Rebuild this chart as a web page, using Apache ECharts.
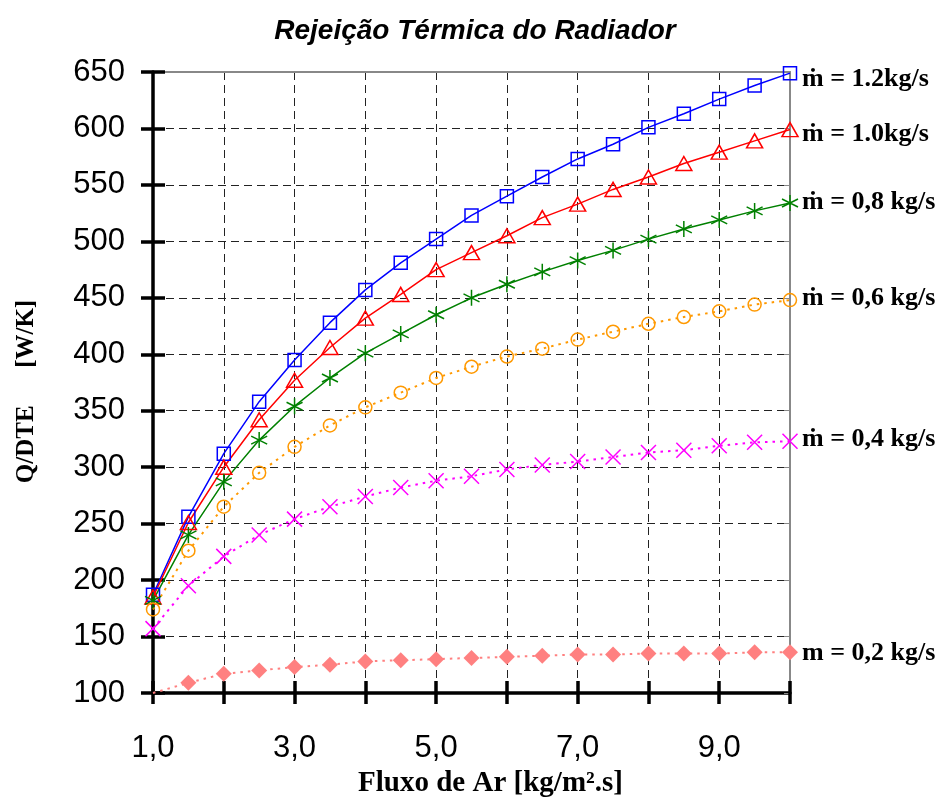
<!DOCTYPE html>
<html>
<head>
<meta charset="utf-8">
<script src="https://cdn.jsdelivr.net/npm/echarts@6/dist/echarts.min.js"></script>
<style>html,body{margin:0;padding:0;background:#fff}#c{width:942px;height:802px}</style>
</head>
<body>
<div id="c"></div>
<script>
// ---- data ----
const xValues = [1.0,1.5,2.0,2.5,3.0,3.5,4.0,4.5,5.0,5.5,6.0,6.5,7.0,7.5,8.0,8.5,9.0,9.5,10.0];
const m12 = [187,256,312,358,395,428,457,481,502,523,540,557,573,586,601,613,626,638,649];
const m10 = [185,251,300,342,377,406,432,453,475,490,505,521,533,546,557,569,579,589,599];
const m08 = [182,240,287,324,354,379,401,418,435,450,462,473,483,492,502,511,519,527,534];
const m06 = [174,226,265,295,318,337,353,366,379,389,398,405,413,420,427,433,438,444,448];
const m04 = [157,195,221,240,254,265,274,282,288,292,298,302,305,309,313,315,319,322,323];
const m02 = [100,109,117,120,123,125,128,129,130,131,132,133,134,134,135,135,135,136,136];
const seriesNames = ['ṁ = 1.2kg/s','ṁ = 1.0kg/s','ṁ = 0,8 kg/s','ṁ = 0,6 kg/s','ṁ = 0,4 kg/s','m = 0,2 kg/s'];
const titleText = 'Rejeição Térmica do Radiador';
const xName = 'Fluxo de Ar [kg/m².s]';
const yName = 'Q/DTE      [W/K]';

const pts = arr => arr.map((v,i)=>[xValues[i], v]);
const SERIF = '"Liberation Serif","Times New Roman",serif';
const SANS = '"Liberation Sans",Arial,sans-serif';
const asterisk = 'path://M5,0L5,10M0.67,2.5L9.33,7.5M0.67,7.5L9.33,2.5';
const cross = 'path://M0,0L10,10M10,0L0,10';

function mk(name, data, color, symbol, size, dashed, filled, labelDy){
  return {
    name, type:'line', xAxisIndex:0, yAxisIndex:0,
    data, symbol, symbolSize:size, showSymbol:true,
    lineStyle:{color, width: dashed?2:1.5, type: dashed?[2.5,5]:'solid'},
    itemStyle:{color: filled?color:'rgba(0,0,0,0)', borderColor: color, borderWidth: filled?0:1.5},
    endLabel:{show:true, formatter:name, distance:12, color:'#000', offset:[0,labelDy],
      fontFamily:SERIF, fontWeight:'bold', fontSize:26},
    z: 3
  };
}

const d02 = pts(m02).map((p,i)=> i===0 ? {value:p, symbol:'none'} : p);

const chart = echarts.init(document.getElementById('c'), null, {renderer:'canvas'});
chart.setOption({
  animation:false,
  backgroundColor:'#fff',
  title:{text:titleText, left:470, textAlign:'center', top:12,
    textStyle:{fontFamily:SANS, fontStyle:'italic', fontWeight:'bold', fontSize:28, color:'#000'}},
  grid:{left:153, right:152, top:72, bottom:109, outerBoundsMode:'none'},
  xAxis:[
    {type:'value', position:'bottom', min:1, max:10, interval:1,
     axisLine:{show:true, lineStyle:{color:'#000', width:3.5}},
     axisTick:{show:true, inside:false, length:11, lineStyle:{color:'#000', width:3.5}},
     axisLabel:{margin:40, fontFamily:SANS, fontSize:31, color:'#000',
       formatter: v => (Math.round(v)%2===1 && v<10) ? v.toFixed(1).replace('.',',') : ''},
     splitLine:{show:true, lineStyle:{type:[8,5], color:'#222', width:1}},
     name:xName, nameLocation:'middle', nameGap:70,
     nameTextStyle:{fontFamily:SERIF, fontWeight:'bold', fontSize:29, color:'#000', padding:[0,0,0,38]}},
    {type:'value', position:'bottom', min:1, max:10, interval:1,
     axisLine:{show:false}, axisLabel:{show:false}, splitLine:{show:false},
     axisTick:{show:true, inside:true, length:12, lineStyle:{color:'#000', width:3.5}}},
    {type:'value', position:'top', min:1, max:10, interval:1,
     axisLine:{show:true, lineStyle:{color:'#888', width:2}},
     axisTick:{show:false}, axisLabel:{show:false}, splitLine:{show:false}}
  ],
  yAxis:[
    {type:'value', position:'left', min:100, max:650, interval:50,
     axisLine:{show:true, lineStyle:{color:'#000', width:3.5}},
     axisTick:{show:true, inside:false, length:12, lineStyle:{color:'#000', width:3.5}},
     axisLabel:{margin:28, fontFamily:SANS, fontSize:31, color:'#000'},
     splitLine:{show:true, lineStyle:{type:[8,5], color:'#222', width:1}},
     name:yName, nameLocation:'middle', nameGap:114, nameRotate:90,
     nameTextStyle:{fontFamily:SERIF, fontWeight:'bold', fontSize:25, color:'#000', padding:[0,18,0,0]}},
    {type:'value', position:'left', min:100, max:650, interval:50,
     axisLine:{show:false}, axisLabel:{show:false}, splitLine:{show:false},
     axisTick:{show:true, inside:true, length:12, lineStyle:{color:'#000', width:3.5}}},
    {type:'value', position:'right', min:100, max:650, interval:50,
     axisLine:{show:true, lineStyle:{color:'#888', width:2}},
     axisTick:{show:true, inside:true, length:6, lineStyle:{color:'#888', width:1}},
     axisLabel:{show:false}, splitLine:{show:false}}
  ],
  series:[
    mk(seriesNames[0], pts(m12), '#0000FF', 'rect', 13, false, false, 6),
    mk(seriesNames[1], pts(m10), '#FF0000', 'triangle', [16,14], false, false, 5),
    mk(seriesNames[2], pts(m08), '#008000', asterisk, 16, false, false, -1),
    mk(seriesNames[3], pts(m06), '#FF9900', 'circle', 13, true, false, -2),
    mk(seriesNames[4], pts(m04), '#FF00FF', cross, 15, true, false, -2),
    mk(seriesNames[5], d02, '#FF8080', 'diamond', 16, true, true, 1)
  ]
});
</script>
</body>
</html>
